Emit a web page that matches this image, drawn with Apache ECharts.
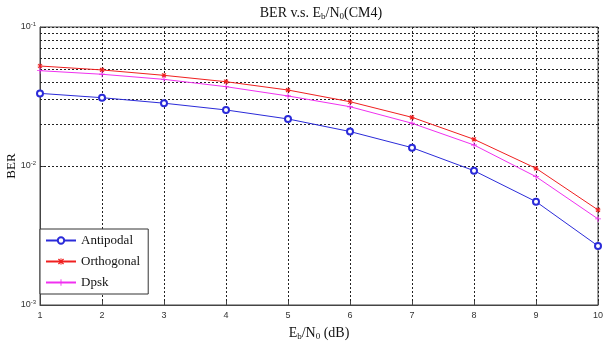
<!DOCTYPE html>
<html>
<head>
<meta charset="utf-8">
<script src="https://cdn.jsdelivr.net/npm/echarts@6/dist/echarts.min.js"></script>
<style>html,body{margin:0;padding:0;background:#fff}#c{width:610px;height:345px}</style>
</head>
<body>
<div id="c"></div>
<script>
const ebn0 = [1, 2, 3, 4, 5, 6, 7, 8, 9, 10];
const antipodal = [0.0333, 0.0310, 0.0283, 0.0253, 0.0218, 0.0177, 0.01355, 0.00925, 0.00554, 0.00266];
const orthogonal = [0.0524, 0.0491, 0.0449, 0.0404, 0.0352, 0.0290, 0.0224, 0.01556, 0.00962, 0.00483];
const dpsk = [0.0485, 0.0457, 0.0420, 0.0372, 0.0319, 0.0267, 0.0203, 0.01416, 0.00838, 0.00416];
const seriesNames = ['Antipodal', 'Orthogonal', 'Dpsk'];
const minorGrid = [0.002, 0.003, 0.004, 0.005, 0.006, 0.007, 0.008, 0.009,
                   0.02, 0.03, 0.04, 0.05, 0.06, 0.07, 0.08, 0.09];

const plusPath = 'path://M4.3,0h1.4v4.3h4.3v1.4h-4.3v4.3h-1.4v-4.3h-4.3v-1.4h4.3z';
const starPath = 'path://M4.3,0h1.4v4.3h4.3v1.4h-4.3v4.3h-1.4v-4.3h-4.3v-1.4h4.3z' +
  'M0.3,1.7L1.7,0.3L9.7,8.3L8.3,9.7Z M8.3,0.3L9.7,1.7L1.7,9.7L0.3,8.3Z';

const serif = '"Liberation Serif", "DejaVu Serif", serif';
const sans = '"Liberation Sans", Arial, sans-serif';

function pairs(ys) { return ebn0.map((x, i) => [x, ys[i]]); }

const chart = echarts.init(document.getElementById('c'));
chart.setOption({
  animation: false,
  backgroundColor: '#fff',
  title: {
    text: 'BER v.s. E{sub|b}/N{sub|0}(CM4)',
    left: 316, textAlign: 'center', top: 0,
    textStyle: {
      fontFamily: serif, fontSize: 14, fontWeight: 'normal', color: '#111',
      rich: { sub: { fontFamily: serif, fontSize: 9, verticalAlign: 'bottom', padding: [7, 0, 0, 0], color: '#111' } }
    }
  },
  grid: { left: 40, right: 12, top: 27, bottom: 40, containLabel: false, outerBoundsMode: 'none',
          show: true, borderColor: '#444', borderWidth: 1 },
  legend: {
    data: seriesNames,
    orient: 'vertical', left: 40, top: 229,
    itemWidth: 30, itemHeight: 8, itemGap: 8,
    padding: [5, 8, 5, 5],
    backgroundColor: '#fff', borderColor: '#333', borderWidth: 1,
    textStyle: { fontFamily: serif, fontSize: 13, color: '#111' }
  },
  xAxis: {
    type: 'value', min: 1, max: 10, interval: 1,
    name: 'E{sub|b}/N{sub|0} (dB)', nameLocation: 'middle', nameGap: 20,
    nameTextStyle: {
      fontFamily: serif, fontSize: 14, color: '#111',
      rich: { sub: { fontFamily: serif, fontSize: 9, verticalAlign: 'bottom', padding: [7, 0, 0, 0], color: '#111' } }
    },
    axisLine: { lineStyle: { color: '#444' } },
    axisTick: { inside: true, length: 4, lineStyle: { color: '#444' } },
    axisLabel: { fontFamily: sans, fontSize: 9, color: '#333', margin: 6 },
    splitLine: { show: true, lineStyle: { color: '#222', type: [2, 2], width: 1 } }
  },
  yAxis: {
    type: 'log', logBase: 10, min: 0.001, max: 0.1,
    name: 'BER', nameLocation: 'middle', nameGap: 22, nameMoveOverlap: false,
    nameTextStyle: { fontFamily: serif, fontSize: 13, color: '#111' },
    axisLine: { lineStyle: { color: '#444' } },
    axisTick: { inside: true, length: 4, lineStyle: { color: '#444' } },
    axisLabel: {
      fontFamily: sans, fontSize: 9, color: '#333', margin: 4,
      formatter: function (v) { return '{b|10}{s|' + Math.round(Math.log10(v)) + '}'; },
      rich: {
        b: { fontFamily: sans, fontSize: 9, color: '#333' },
        s: { fontFamily: sans, fontSize: 6, color: '#333', verticalAlign: 'top', padding: [0, 0, 6, 0] }
      }
    },
    splitLine: { show: true, lineStyle: { color: '#222', type: [2, 2], width: 1 } }
  },
  series: [
    {
      name: 'Antipodal', type: 'line', data: pairs(antipodal),
      symbol: 'emptyCircle', symbolSize: 6,
      lineStyle: { color: '#2b2bd9', width: 1 },
      itemStyle: { color: '#2b2bd9', borderColor: '#2b2bd9', borderWidth: 0.7 },
      z: 5,
      markLine: {
        silent: true, symbol: ['none', 'none'], label: { show: false },
        lineStyle: { color: '#222', type: [2, 2], width: 1 },
        data: minorGrid.map(v => ({ yAxis: v })),
        z: 1
      }
    },
    {
      name: 'Orthogonal', type: 'line', data: pairs(orthogonal),
      symbol: starPath, symbolSize: 5,
      lineStyle: { color: '#f02020', width: 1 },
      itemStyle: { color: '#f02020' },
      z: 5
    },
    {
      name: 'Dpsk', type: 'line', data: pairs(dpsk),
      symbol: plusPath, symbolSize: 6,
      lineStyle: { color: '#f030f0', width: 1 },
      itemStyle: { color: '#f030f0' },
      z: 5
    }
  ]
});
</script>
</body>
</html>
